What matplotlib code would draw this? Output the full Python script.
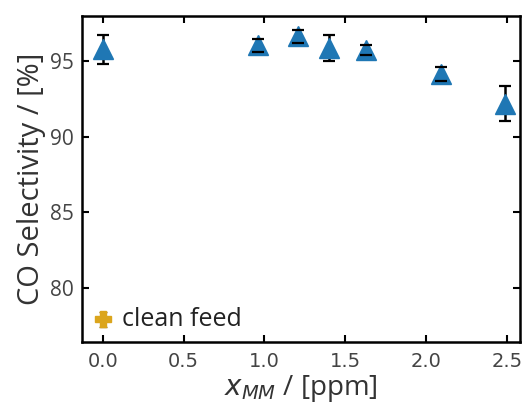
import matplotlib
matplotlib.use("Agg")
import matplotlib.pyplot as plt

plt.rcParams["font.family"] = ["Open Sans", "DejaVu Sans"]

# ---- data ----
x_mm = [0.0, 0.96, 1.21, 1.40, 1.63, 2.09, 2.49]
co_sel = [95.8, 96.05, 96.65, 95.9, 95.75, 94.15, 92.2]
co_err = [0.95, 0.42, 0.42, 0.85, 0.35, 0.45, 1.15]

clean_x = [0.0]
clean_sel = [77.9]
clean_err = [0.5]

xticks = [0.0, 0.5, 1.0, 1.5, 2.0, 2.5]
yticks = [80, 85, 90, 95]

fig = plt.figure(figsize=(5.24, 4.08), dpi=100)
ax = fig.add_axes([0.1565, 0.1618, 0.836, 0.799])

# error bars under the triangles, caps on top
eb = ax.errorbar(x_mm, co_sel, yerr=co_err, fmt="none", ecolor="black",
                 elinewidth=1.8, capsize=4, capthick=1.6, zorder=2)
for cap in eb[1]:
    cap.set_zorder(4)
ax.plot(x_mm, co_sel, linestyle="none", marker="^", markersize=14,
        color="#1f77b4", zorder=3)

# clean feed reference point
ax.errorbar(clean_x, clean_sel, yerr=clean_err, fmt="P", color="#dba51c",
            markersize=12, ecolor="#8a6a10", elinewidth=1.5, capsize=3,
            zorder=3)
ax.annotate("clean feed", (clean_x[0], clean_sel[0]), xytext=(14, 0),
            textcoords="offset points", va="center", ha="left",
            fontsize=18, color="#222222")

ax.set_xlim(-0.128, 2.582)
ax.set_ylim(76.4, 98.0)
ax.set_xticks(xticks)
ax.set_yticks(yticks)
ax.tick_params(direction="in", top=True, right=True, length=5, width=1.5,
               labelcolor="#444444")
ax.tick_params(axis="x", labelsize=14, pad=7)
ax.tick_params(axis="y", labelsize=15, pad=6)
for lab in ax.get_xticklabels():
    lab.set_fontfamily("DejaVu Sans")
for s in ax.spines.values():
    s.set_linewidth(1.8)

ax.set_xlabel(r"$x_{MM}$ / [ppm]", fontsize=20, color="#333333", labelpad=2)
ax.set_ylabel("CO Selectivity / [%]", fontsize=21, color="#333333", labelpad=3)

plt.savefig("out.png", dpi=100)
